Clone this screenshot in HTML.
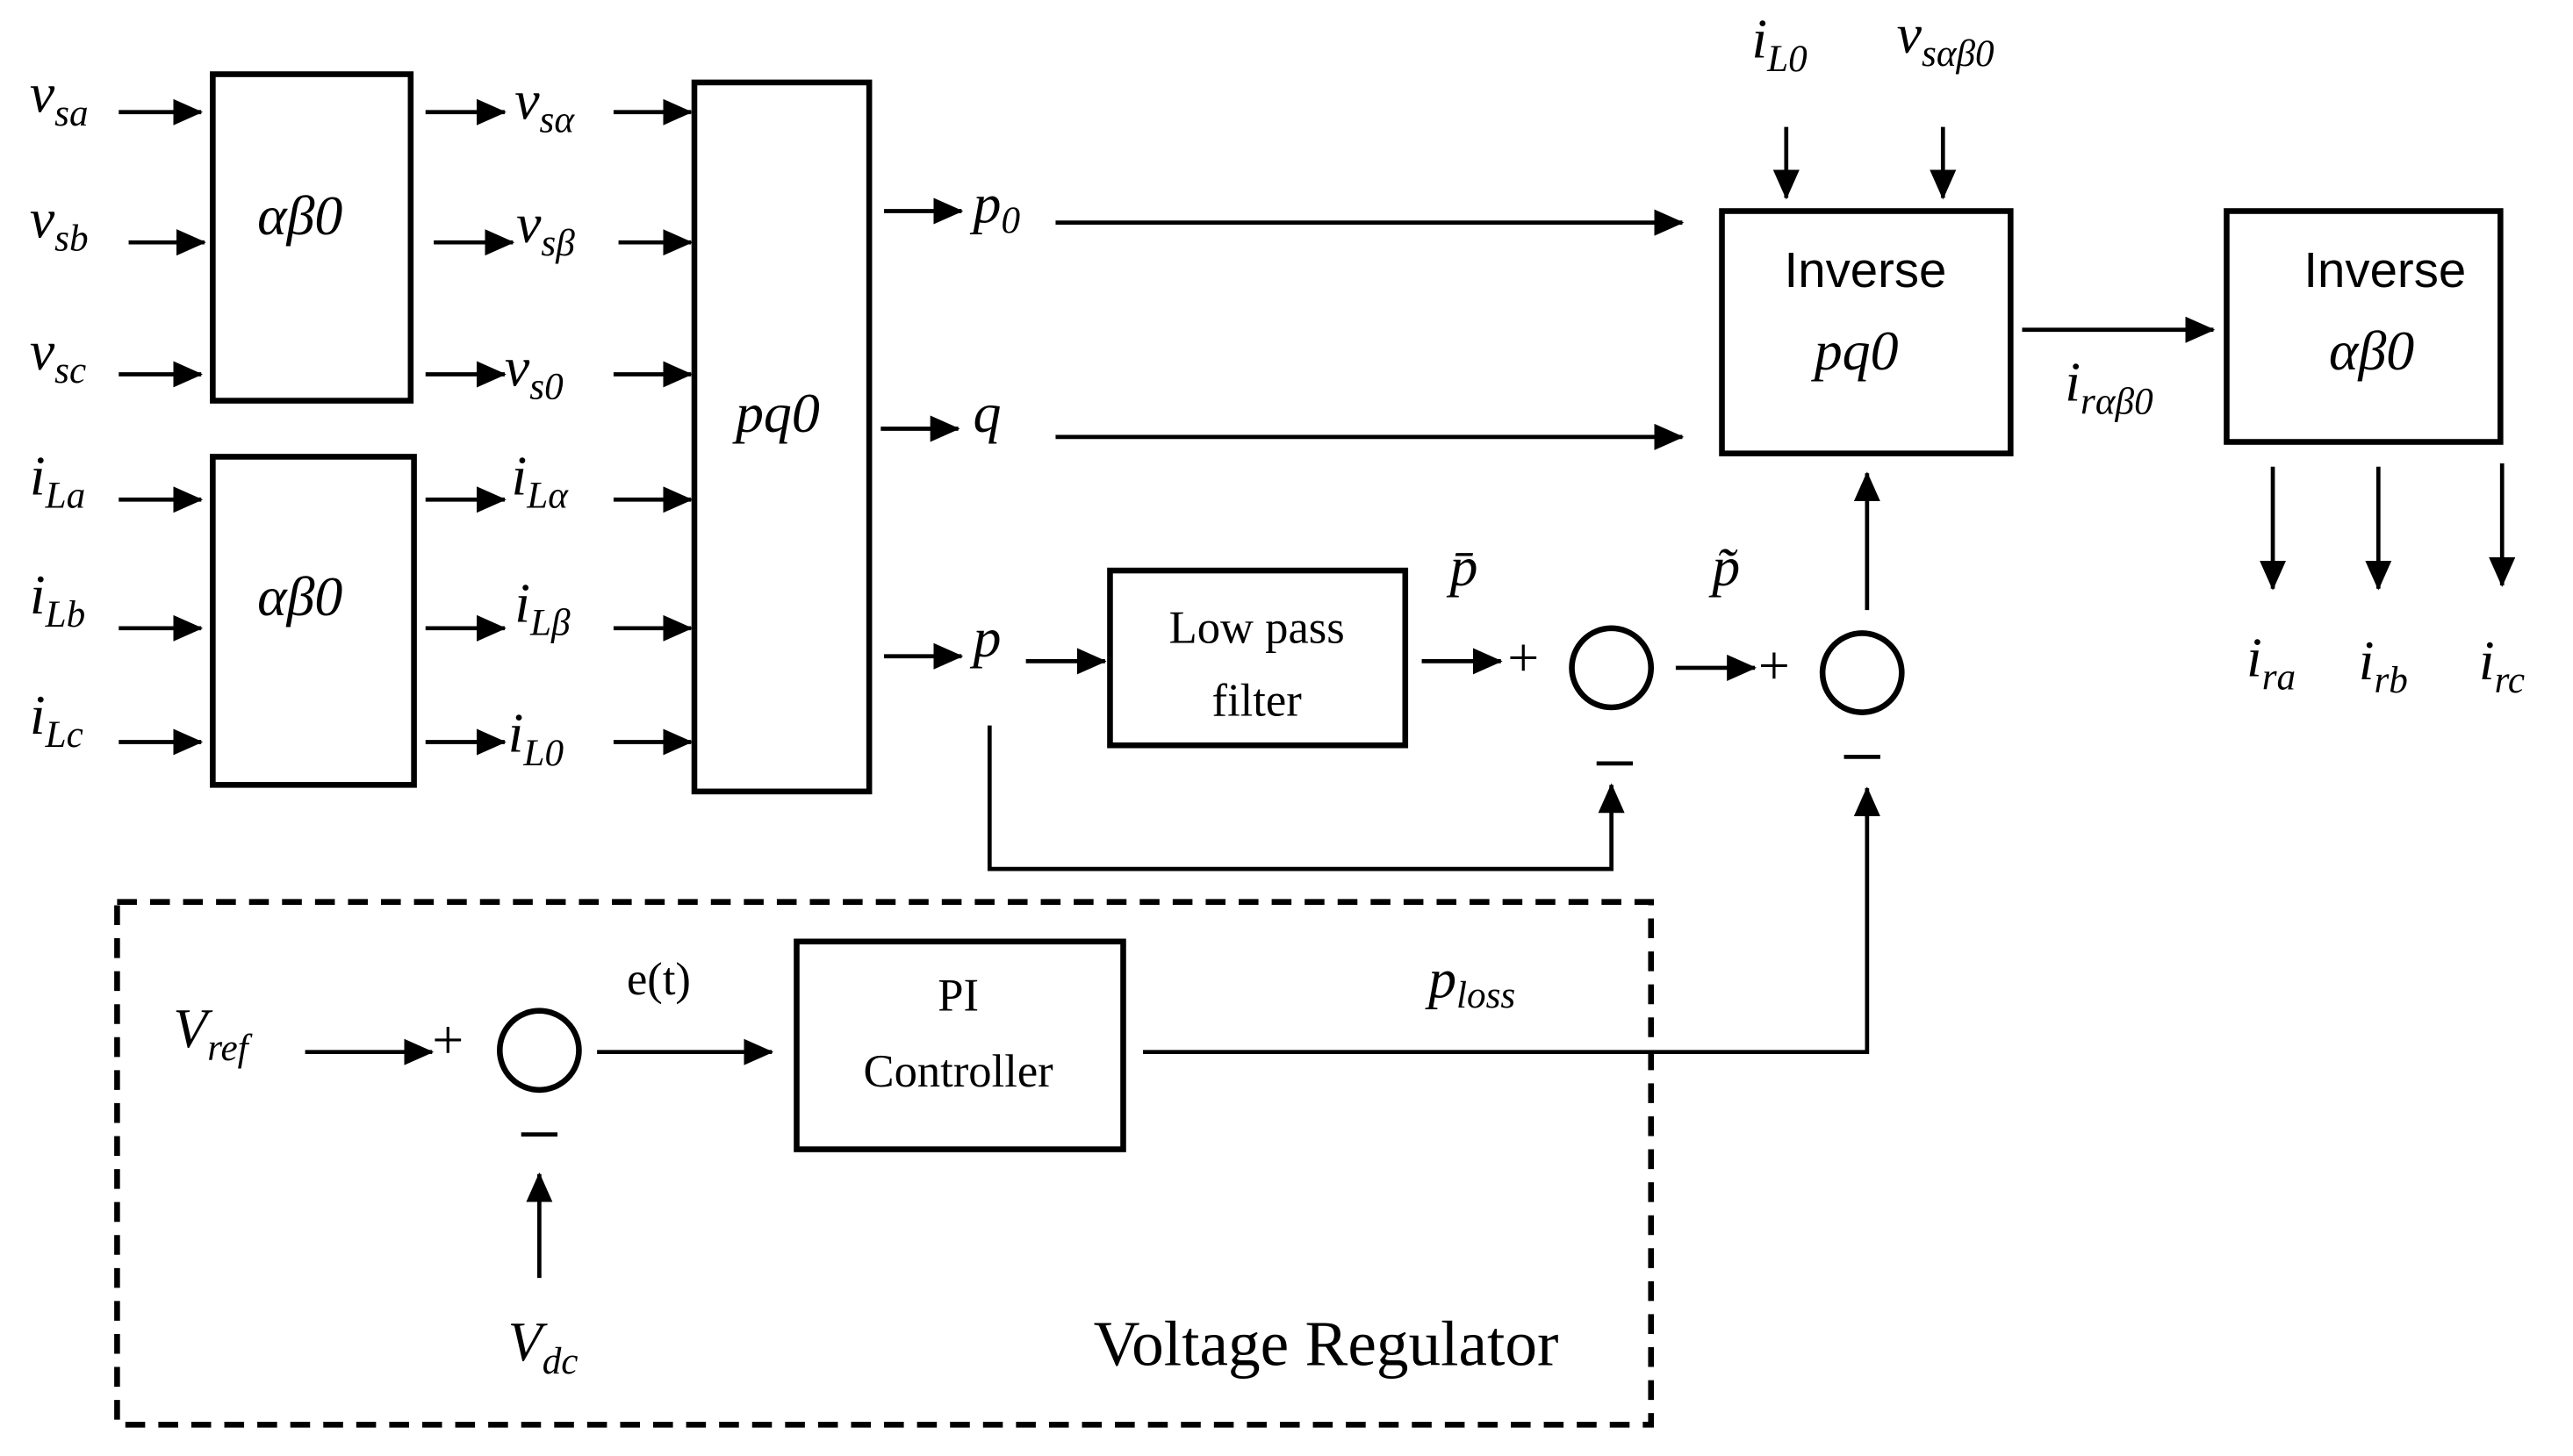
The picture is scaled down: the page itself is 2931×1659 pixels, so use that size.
<!DOCTYPE html>
<html><head><meta charset="utf-8"><style>
html,body{margin:0;padding:0;background:#fff;}
svg{display:block;}
.m{font-family:"Liberation Serif",serif;font-style:italic;font-size:34px;}
.s{font-size:23px;}
.r{font-family:"Liberation Serif",serif;font-size:28px;}
.a{font-family:"Liberation Sans",sans-serif;font-size:30px;}
</style></head><body>
<svg width="2931" height="1659" viewBox="0 0 1560 883" preserveAspectRatio="none" xmlns="http://www.w3.org/2000/svg">
<defs><marker id="ar" markerWidth="18" markerHeight="16" refX="17" refY="8" orient="auto" markerUnits="userSpaceOnUse"><path d="M0,0 L18,8 L0,16 z" fill="#000"/></marker></defs>
<g fill="none" stroke="#000" stroke-width="3.5">
<rect x="129" y="45" width="120" height="198"/>
<rect x="129" y="277" width="122" height="199"/>
<rect x="421" y="50" width="106" height="430"/>
<rect x="1044" y="128" width="175" height="147"/>
<rect x="1350" y="128" width="166" height="140"/>
<rect x="673" y="346" width="179" height="106"/>
<rect x="483" y="571" width="198" height="126"/>
<circle cx="977" cy="405" r="24"/>
<circle cx="1129" cy="408" r="24"/>
<circle cx="327" cy="637" r="24"/>
<rect x="71" y="547" width="930" height="317" stroke-dasharray="12,8"/>
</g>
<g stroke="#000" stroke-width="2.5" marker-end="url(#ar)">
<line x1="72" y1="68" x2="122" y2="68"/><line x1="78" y1="147" x2="124" y2="147"/><line x1="72" y1="227" x2="122" y2="227"/>
<line x1="72" y1="303" x2="122" y2="303"/><line x1="72" y1="381" x2="122" y2="381"/><line x1="72" y1="450" x2="122" y2="450"/>
<line x1="258" y1="68" x2="306" y2="68"/><line x1="263" y1="147" x2="311" y2="147"/><line x1="258" y1="227" x2="306" y2="227"/>
<line x1="258" y1="303" x2="306" y2="303"/><line x1="258" y1="381" x2="306" y2="381"/><line x1="258" y1="450" x2="306" y2="450"/>
<line x1="372" y1="68" x2="419" y2="68"/><line x1="375" y1="147" x2="419" y2="147"/><line x1="372" y1="227" x2="419" y2="227"/>
<line x1="372" y1="303" x2="419" y2="303"/><line x1="372" y1="381" x2="419" y2="381"/><line x1="372" y1="450" x2="419" y2="450"/>
<line x1="536" y1="128" x2="583" y2="128"/><line x1="534" y1="260" x2="581" y2="260"/><line x1="536" y1="398" x2="583" y2="398"/>
<line x1="640" y1="135" x2="1020" y2="135"/><line x1="640" y1="265" x2="1020" y2="265"/>
<line x1="622" y1="401" x2="670" y2="401"/><line x1="862" y1="401" x2="910" y2="401"/><line x1="1016" y1="405" x2="1064" y2="405"/>
<line x1="1132" y1="370" x2="1132" y2="287"/>
<line x1="1083" y1="77" x2="1083" y2="120"/><line x1="1178" y1="77" x2="1178" y2="120"/>
<line x1="1226" y1="200" x2="1342" y2="200"/>
<line x1="1378" y1="283" x2="1378" y2="357"/><line x1="1442" y1="283" x2="1442" y2="357"/><line x1="1517" y1="281" x2="1517" y2="355"/>
<polyline fill="none" points="600,440 600,527 977,527 977,476"/>
<polyline fill="none" points="693,638 1132,638 1132,478"/>
<line x1="185" y1="638" x2="262" y2="638"/><line x1="362" y1="638" x2="468" y2="638"/>
<line x1="327" y1="775" x2="327" y2="712"/>
</g>
<g class="m">
<text x="18" y="68">v<tspan class="s" dy="8">sa</tspan></text>
<text x="18" y="144">v<tspan class="s" dy="8">sb</tspan></text>
<text x="18" y="224">v<tspan class="s" dy="8">sc</tspan></text>
<text x="18" y="300">i<tspan class="s" dy="8">La</tspan></text>
<text x="18" y="372">i<tspan class="s" dy="8">Lb</tspan></text>
<text x="18" y="445">i<tspan class="s" dy="8">Lc</tspan></text>
<text x="312" y="72">v<tspan class="s" dy="8">sα</tspan></text>
<text x="313" y="147">v<tspan class="s" dy="8">sβ</tspan></text>
<text x="306" y="234">v<tspan class="s" dy="8">s0</tspan></text>
<text x="310" y="300">i<tspan class="s" dy="8">Lα</tspan></text>
<text x="312" y="377">i<tspan class="s" dy="8">Lβ</tspan></text>
<text x="308" y="456">i<tspan class="s" dy="8">L0</tspan></text>
<text x="156" y="142">αβ0</text>
<text x="156" y="373">αβ0</text>
<text x="446" y="262">pq0</text>
<text x="590" y="135">p<tspan class="s" dy="6">0</tspan></text>
<text x="590" y="262">q</text>
<text x="590" y="398">p</text>
<text x="879" y="355">p̄</text>
<text x="1038" y="355">p̃</text>
<text x="1062" y="35">i<tspan class="s" dy="8">L0</tspan></text>
<text x="1150" y="32">v<tspan class="s" dy="8">sαβ0</tspan></text>
<text x="1100" y="224">pq0</text>
<text x="1412" y="224">αβ0</text>
<text x="1252" y="243">i<tspan class="s" dy="8">rαβ0</tspan></text>
<text x="1362" y="410">i<tspan class="s" dy="8">ra</tspan></text>
<text x="1430" y="412">i<tspan class="s" dy="8">rb</tspan></text>
<text x="1503" y="412">i<tspan class="s" dy="8">rc</tspan></text>
<text x="866" y="605">p<tspan class="s" dy="6">loss</tspan></text>
<text x="105" y="635">V<tspan class="s" dy="8">ref</tspan></text>
<text x="308" y="825">V<tspan class="s" dy="8">dc</tspan></text>
</g>
<g class="a">
<text x="1131" y="174" text-anchor="middle">Inverse</text>
<text x="1446" y="174" text-anchor="middle">Inverse</text>
</g>
<g class="r">
<text x="762" y="390" text-anchor="middle">Low pass</text>
<text x="762" y="434" text-anchor="middle">filter</text>
<text x="581" y="613" text-anchor="middle">PI</text>
<text x="581" y="659" text-anchor="middle">Controller</text>
<text x="380" y="603">e(t)</text>
<text x="663" y="828" style="font-size:39px">Voltage Regulator</text>
<text x="914" y="410" style="font-size:34px">+</text>
<text x="1066" y="415" style="font-size:34px">+</text>
<text x="262" y="642" style="font-size:34px">+</text>
</g>
<g stroke="#000" stroke-width="2.5">
<line x1="968" y1="463" x2="990" y2="463"/><line x1="1118" y1="459" x2="1140" y2="459"/><line x1="316" y1="688" x2="338" y2="688"/>
</g>
</svg>
</body></html>
